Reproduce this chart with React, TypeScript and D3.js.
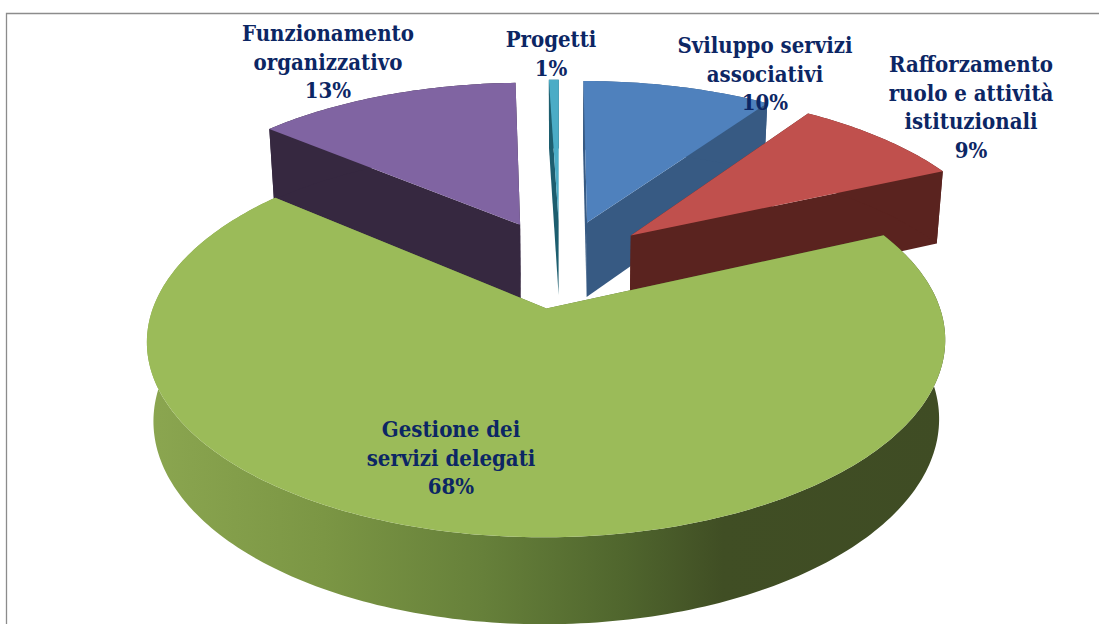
import React from "react";
import * as d3 from "d3";

const categories = ["Sviluppo servizi associativi", "Rafforzamento ruolo e attività istituzionali", "Gestione dei servizi delegati", "Funzionamento organizzativo", "Progetti"];
const shareValues = [9.6, 8.7, 67.8, 13.4, 0.5];
const labelLines = [
  ["Sviluppo servizi", "associativi"],
  ["Rafforzamento", "ruolo e attività", "istituzionali"],
  ["Gestione dei", "servizi delegati"],
  ["Funzionamento", "organizzativo"],
  ["Progetti"],
];
const labelAnchors = [
  [765, 53],
  [971, 72],
  [451, 437],
  [328, 41],
  [551, 47],
];
const topColors = ["#4f81bd", "#c0504d", "#9bbb59", "#8064a2", "#4bacc6"];
const wallColors = ["#375a83", "#5a231f", "url(#greenWall)", "#362840", "#1d5e6f"];
const paintOrder = [4, 0, 3, 1, 2];

const W = 1099, H = 624;
const persp = 0.16, explode = 0.25;
const topPlane = { x: 560, y: 263, kx: 378, ky: 176 };
const bottomPlane = { x: 560, y: 339, kx: 372, ky: 183 };

const pieGen = d3.pie<number>().sort(null).startAngle(0).endAngle(2 * Math.PI);
const arcs = pieGen(shareValues);

type Plane = typeof topPlane;
const project = (X: number, Y: number, pl: Plane): [number, number] => {
  const w = 1 + persp * Y;
  return [pl.x + (pl.kx * X) / w, pl.y - (pl.ky * Y) / w];
};
const lineGen = d3.line<[number, number]>().x((d) => d[0]).y((d) => d[1]);

function sliceGeometry(a: d3.PieArcDatum<number>) {
  const mid = (a.startAngle + a.endAngle) / 2;
  const ox = explode * Math.sin(mid), oy = explode * Math.cos(mid);
  const n = Math.max(4, Math.ceil(((a.endAngle - a.startAngle) * 180) / Math.PI));
  const ts = d3.range(n + 1).map((i) => a.startAngle + ((a.endAngle - a.startAngle) * i) / n);
  const rim = (pl: Plane) => ts.map((t) => project(ox + Math.sin(t), oy + Math.cos(t), pl));
  const rimT = rim(topPlane), rimB = rim(bottomPlane);
  const apexT = project(ox, oy, topPlane), apexB = project(ox, oy, bottomPlane);
  return {
    top: lineGen([apexT, ...rimT])! + "Z",
    rimWall: lineGen([...rimT, ...rimB.slice().reverse()])! + "Z",
    wallStart: lineGen([apexT, rimT[0], rimB[0], apexB])! + "Z",
    wallEnd: lineGen([apexT, rimT[n], rimB[n], apexB])! + "Z",
  };
}

export default function App() {
  const font = "'DejaVu Serif Condensed','DejaVu Serif',serif";
  return (
    <svg width={W} height={H} style={{ position: "absolute", left: 0, top: 0, background: "#fff" }}>
      <defs>
        <linearGradient id="greenWall" gradientUnits="userSpaceOnUse" x1={148} x2={946} y1={0} y2={0}>
          <stop offset="0" stopColor="#8ba650" />
          <stop offset="0.22" stopColor="#7b9644" />
          <stop offset="0.42" stopColor="#66803a" />
          <stop offset="0.6" stopColor="#4f652d" />
          <stop offset="0.72" stopColor="#404e24" />
          <stop offset="1" stopColor="#3f4c24" />
        </linearGradient>
      </defs>
      <path d={`M6.5,${H}V13.5H${W}`} fill="none" stroke="#8c8c8c" strokeWidth={1.3} />
      {paintOrder.map((i) => {
        const g = sliceGeometry(arcs[i]);
        return (
          <g key={categories[i]}>
            <path d={g.wallStart} fill={wallColors[i]} />
            <path d={g.wallEnd} fill={wallColors[i]} />
            <path d={g.rimWall} fill={wallColors[i]} />
            <path d={g.top} fill={topColors[i]} />
          </g>
        );
      })}
      {categories.map((c, i) => {
        const lines = [...labelLines[i], `${Math.round(shareValues[i])}%`];
        return (
          <text key={c} fontFamily={font} fontWeight={700} fontSize={22} fill="#0c2664" textAnchor="middle">
            {lines.map((l, j) => (
              <tspan key={j} x={labelAnchors[i][0]} y={labelAnchors[i][1] + j * 28.7}>{l}</tspan>
            ))}
          </text>
        );
      })}
    </svg>
  );
}
